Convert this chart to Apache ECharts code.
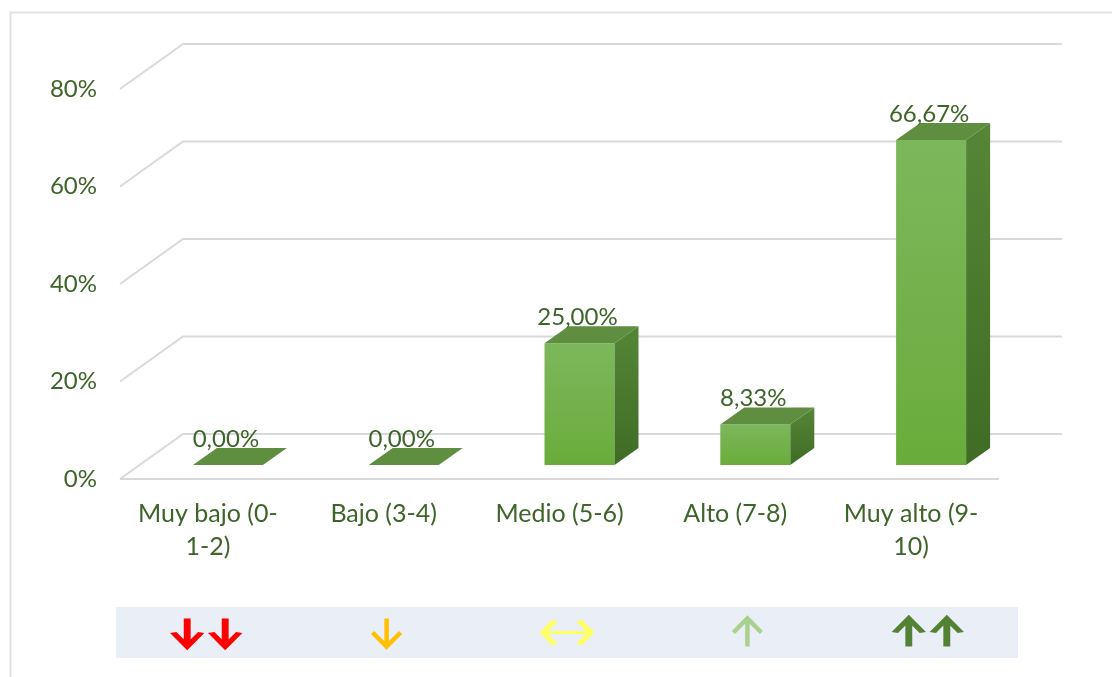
<!DOCTYPE html>
<html>
<head>
<meta charset="utf-8">
<script src="https://cdn.jsdelivr.net/npm/echarts@6/dist/echarts.min.js"></script>
<style>
  html, body { margin: 0; padding: 0; background: #fff; }
  #main { width: 1112px; height: 677px; }
</style>
</head>
<body>
<div id="main"></div>
<script>
// datos del gráfico
var categorias = ["Muy bajo (0-\n1-2)", "Bajo (3-4)", "Medio (5-6)", "Alto (7-8)", "Muy alto (9-\n10)"];
var valores = [0, 0, 25, 8.33, 66.67];
var ticksY = [0, 20, 40, 60, 80];
var flechas = ["↓↓", "↓", "↔", "↑", "↑↑"];
var coloresFlecha = ["#ff0000", "#ffc000", "#ffff66", "#a9d18e", "#548235"];

var verde = "#3d6529";
var fuente = "Lato";

// trazos de cada flecha (dibujo, no datos)
var trazos = {
  "↓↓": { path: "path://M14 0V28M0 14L14 28L28 14M52 0V28M38 14L52 28L66 14", size: [66, 28] },
  "↓":  { path: "path://M14 0V28M0 14L14 28L28 14", size: [28, 28] },
  "↔":  { path: "path://M0 12H48M12 0L0 12L12 24M36 0L48 12L36 24", size: [48, 24] },
  "↑":  { path: "path://M14 28V0M0 14L14 0L28 14", size: [28, 28] },
  "↑↑": { path: "path://M14 28V0M0 14L14 0L28 14M52 28V0M38 14L52 0L66 14", size: [66, 28] }
};

// desplazamientos de la perspectiva
var FONDO_X = 63, FONDO_Y = -45;     // pared del fondo
var BARRA_X = 20, BARRA_Y = -14;     // cara frontal de la barra
var PROF_X = 24, PROF_Y = -17;       // profundidad de la barra
var MEDIO_ANCHO = 35;

function formatoPct(v) {
  return v.toFixed(2).replace(".", ",") + "%";
}

function lineasGrid(params, api) {
  var cs = params.coordSys;
  var y = api.coord([0, api.value(1)])[1];
  var x0 = cs.x;
  var x1 = cs.x + cs.width;
  var hijos = [{
    type: "polyline",
    shape: { points: [[x0, y], [x0 + FONDO_X, y + FONDO_Y], [x1 + FONDO_X, y + FONDO_Y]] },
    style: { stroke: "#d9d9d9", lineWidth: 2, fill: null }
  }];
  if (api.value(1) === 0) {
    hijos.push({
      type: "line",
      shape: { x1: x0, y1: y, x2: x1, y2: y },
      style: { stroke: "#d9d9d9", lineWidth: 2 }
    });
  }
  return { type: "group", children: hijos };
}

function barra3d(params, api) {
  var i = api.value(0);
  var v = api.value(1);
  var base = api.coord([i, 0]);
  var tope = api.coord([i, v]);
  var cx = base[0] + BARRA_X;
  var izq = cx - MEDIO_ANCHO, der = cx + MEDIO_ANCHO;
  var yb = base[1] + BARRA_Y, yt = tope[1] + BARRA_Y;
  var hijos = [];
  if (yb - yt > 0.5) {
    hijos.push({
      type: "rect",
      shape: { x: izq, y: yt, width: der - izq, height: yb - yt },
      style: {
        fill: new echarts.graphic.LinearGradient(0, 0, 0, 1, [
          { offset: 0, color: "#7db75c" },
          { offset: 1, color: "#6aac3b" }
        ])
      }
    });
    hijos.push({
      type: "polygon",
      shape: { points: [[der, yt], [der + PROF_X, yt + PROF_Y], [der + PROF_X, yb + PROF_Y], [der, yb]] },
      style: {
        fill: new echarts.graphic.LinearGradient(0, 0, 0, 1, [
          { offset: 0, color: "#558637" },
          { offset: 1, color: "#3f6c25" }
        ])
      }
    });
  }
  hijos.push({
    type: "polygon",
    shape: { points: [[izq, yt], [izq + PROF_X, yt + PROF_Y], [der + PROF_X, yt + PROF_Y], [der, yt]] },
    style: { fill: "#5f8e41" }
  });
  hijos.push({
    type: "text",
    style: {
      text: formatoPct(v),
      x: cx - 2,
      y: yt + PROF_Y + 3,
      align: "center",
      verticalAlign: "bottom",
      fill: verde,
      font: "24px " + fuente
    }
  });
  return { type: "group", children: hijos };
}

var chart = echarts.init(document.getElementById("main"));

var option = {
  animation: false,
  backgroundColor: "#fff",
  graphic: [{
    type: "rect",
    left: 8, top: 10,
    shape: { width: 1200, height: 800 },
    style: { fill: null, stroke: "#dfe3e8", lineWidth: 2 },
    silent: true
  }],
  grid: [
    { left: 120, right: 113, top: 89, bottom: 198 },
    { left: 116, width: 902, top: 607, height: 51, show: true, backgroundColor: "#eaeff7", borderWidth: 0 }
  ],
  xAxis: [{
    type: "category",
    gridIndex: 0,
    data: categorias,
    axisLine: { show: false },
    axisTick: { show: false },
    axisLabel: { color: verde, fontSize: 25, fontFamily: fuente, lineHeight: 33, margin: 18, interval: 0 }
  }, {
    type: "category",
    gridIndex: 1,
    data: flechas,
    show: false
  }],
  yAxis: [{
    type: "value",
    gridIndex: 0,
    min: 0, max: 80, interval: 20,
    axisLine: { show: false },
    axisTick: { show: false },
    splitLine: { show: false },
    axisLabel: { color: verde, fontSize: 24, fontFamily: fuente, margin: 23, formatter: "{value}%" }
  }, {
    type: "value",
    gridIndex: 1,
    min: 0, max: 1,
    show: false
  }],
  series: [{
    type: "custom",
    xAxisIndex: 0, yAxisIndex: 0,
    renderItem: lineasGrid,
    data: ticksY.map(function (t) { return [0, t]; }),
    z: 1,
    silent: true
  }, {
    type: "custom",
    xAxisIndex: 0, yAxisIndex: 0,
    renderItem: barra3d,
    data: valores.map(function (v, i) { return [i, v]; }),
    z: 2
  }, {
    type: "scatter",
    name: "Nivel",
    xAxisIndex: 1, yAxisIndex: 1,
    data: flechas.map(function (f, i) {
      return {
        name: f,
        value: [i, 0.5],
        symbol: trazos[f].path,
        symbolSize: trazos[f].size,
        itemStyle: { color: "none", borderColor: coloresFlecha[i], borderWidth: 4.5 }
      };
    }),
    itemStyle: { opacity: 1 }
  }]
};

chart.setOption(option);
</script>
</body>
</html>
